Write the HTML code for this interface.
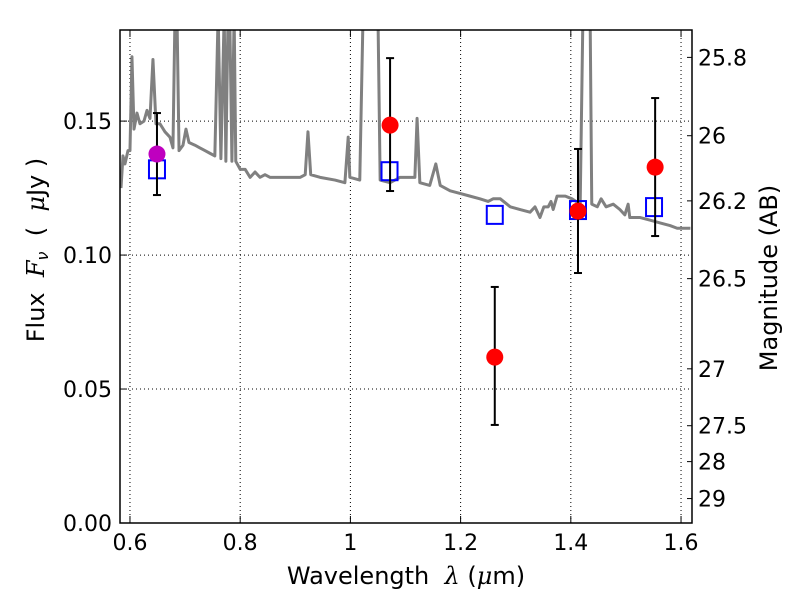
<!DOCTYPE html>
<html><head><meta charset="utf-8"><style>
body{margin:0;background:#fff}
svg text{font-family:"DejaVu Sans","Liberation Sans",sans-serif;fill:#000}
</style></head><body>
<svg id="c" width="800" height="600" xmlns="http://www.w3.org/2000/svg"></svg>
<script>
const specLam=[0.5837,0.5873,0.5909,0.5964,0.600,0.6036,0.6073,0.6127,0.6181,0.6254,0.6309,0.6363,0.6417,0.6472,0.6544,0.6635,0.6726,0.678,0.6817,0.6853,0.689,0.6962,0.7016,0.7071,0.718,0.727,0.736,0.745,0.754,0.760,0.765,0.771,0.774,0.778,0.781,0.785,0.789,0.792,0.800,0.809,0.818,0.827,0.836,0.845,0.854,0.872,0.890,0.909,0.918,0.923,0.928,0.945,0.972,0.990,0.996,0.999,1.017,1.023,1.050,1.054,1.072,1.090,1.108,1.117,1.121,1.126,1.144,1.155,1.163,1.181,1.199,1.217,1.235,1.250,1.259,1.272,1.290,1.308,1.326,1.335,1.344,1.351,1.359,1.364,1.368,1.375,1.390,1.402,1.417,1.422,1.435,1.438,1.448,1.455,1.464,1.477,1.489,1.498,1.504,1.507,1.526,1.544,1.562,1.580,1.593,1.617];
const specFlux=[0.125,0.137,0.134,0.139,0.139,0.174,0.147,0.153,0.149,0.150,0.154,0.151,0.173,0.149,0.149,0.146,0.144,0.140,0.19,0.19,0.139,0.141,0.147,0.142,0.141,0.140,0.139,0.138,0.137,0.19,0.136,0.19,0.135,0.19,0.19,0.135,0.19,0.135,0.132,0.132,0.129,0.131,0.129,0.130,0.129,0.129,0.129,0.129,0.130,0.146,0.130,0.129,0.128,0.127,0.144,0.129,0.128,0.19,0.19,0.128,0.127,0.129,0.129,0.129,0.151,0.127,0.126,0.134,0.126,0.124,0.123,0.122,0.121,0.120,0.121,0.121,0.118,0.117,0.116,0.118,0.114,0.118,0.118,0.120,0.117,0.122,0.122,0.121,0.119,0.19,0.19,0.119,0.118,0.121,0.118,0.119,0.117,0.115,0.119,0.114,0.114,0.113,0.112,0.111,0.110,0.110];
const obsLam=[0.649,1.072,1.262,1.413,1.553];
const obsFlux=[0.1377,0.1485,0.0619,0.1164,0.1328];
const obsLo=[0.1224,0.1239,0.0366,0.0933,0.1071];
const obsHi=[0.153,0.1735,0.0881,0.1396,0.1586];
const obsColor=['#bf00bf','red','red','red','red'];
const modLam=[0.649,1.071,1.262,1.413,1.551];
const modFlux=[0.132,0.1313,0.115,0.1168,0.1179];
const xTicks=[0.6,0.8,1.0,1.2,1.4,1.6];
const xTickLabels=['0.6','0.8','1','1.2','1.4','1.6'];
const yTicks=[0,0.05,0.10,0.15];
const yTickLabels=['0.00','0.05','0.10','0.15'];
const magTicks=[25.8,26,26.2,26.5,27,27.5,28,29];
const magTickLabels=['25.8','26','26.2','26.5','27','27.5','28','29'];

const L=120,R=692,T=30,B=523;
const xmin=0.5819,xmax=1.6199,ymin=0,ymax=0.184;
const X=v=>L+(v-xmin)/(xmax-xmin)*(R-L);
const Y=v=>B-(v-ymin)/(ymax-ymin)*(B-T);
const magY=m=>Y(Math.pow(10,(23.9-m)/2.5));
const svg=document.getElementById('c');
const NS='http://www.w3.org/2000/svg';
function mk(tag,attrs,parent){const e=document.createElementNS(NS,tag);for(const k in attrs)e.setAttribute(k,attrs[k]);(parent||svg).appendChild(e);return e;}

const defs=mk('defs',{});
const cp=mk('clipPath',{id:'clip'},defs);
mk('rect',{x:L,y:T,width:R-L,height:B-T},cp);

const grid=mk('g',{});


xTicks.forEach(v=>mk('line',{x1:X(v),x2:X(v),y1:T,y2:B,stroke:'#000','stroke-width':1,'stroke-dasharray':'1,3'},grid));
yTicks.forEach(v=>mk('line',{x1:L,x2:R,y1:Y(v),y2:Y(v),stroke:'#000','stroke-width':1,'stroke-dasharray':'1,3'},grid));

const sp=mk('polyline',{points:specLam.map((l,i)=>X(l)+','+Y(specFlux[i])).join(' '),fill:'none',stroke:'#808080','stroke-width':3,'stroke-linejoin':'round','clip-path':'url(#clip)'});



modLam.forEach((l,i)=>{
  const r=mk('rect',{x:X(l)-8,y:Y(modFlux[i])-9,width:16,height:18,fill:'none',stroke:'#0000ff','stroke-width':2});
  
  
});
obsLam.forEach((l,i)=>{
  const g=mk('g',{});
  
  
  const x=X(l);
  mk('line',{x1:x,x2:x,y1:Y(obsLo[i]),y2:Y(obsHi[i]),stroke:'#000','stroke-width':2},g);
  mk('line',{x1:x-4,x2:x+4,y1:Y(obsLo[i]),y2:Y(obsLo[i]),stroke:'#000','stroke-width':2},g);
  mk('line',{x1:x-4,x2:x+4,y1:Y(obsHi[i]),y2:Y(obsHi[i]),stroke:'#000','stroke-width':2},g);
  mk('circle',{cx:x,cy:Y(obsFlux[i]),r:8.5,fill:obsColor[i]},g);
});

const fr=mk('rect',{x:L,y:T,width:R-L,height:B-T,fill:'none',stroke:'#000','stroke-width':1.5});



xTicks.forEach((v,i)=>{
  const x=X(v);
  mk('line',{x1:x,x2:x,y1:B,y2:B-7,stroke:'#000'});
  mk('line',{x1:x,x2:x,y1:T,y2:T+7,stroke:'#000'});
  const t=mk('text',{x:x,y:B+27,'font-size':22,'text-anchor':'middle'});
  t.textContent=xTickLabels[i];
  
  
});
yTicks.forEach((v,i)=>{
  const y=Y(v);
  mk('line',{x1:L,x2:L+7,y1:y,y2:y,stroke:'#000'});
  const t=mk('text',{x:L-8,y:y+8,'font-size':22,'text-anchor':'end'});
  t.textContent=yTickLabels[i];
  
  
});
magTicks.forEach((m,i)=>{
  const y=magY(m);
  mk('line',{x1:R,x2:R-5,y1:y,y2:y,stroke:'#000'});
  const t=mk('text',{x:R+6,y:y+8,'font-size':22});
  t.textContent=magTickLabels[i];
  
  
});

const xt=mk('text',{x:406,y:584,'font-size':24,'text-anchor':'middle'});
xt.innerHTML='Wavelength \u00a0<tspan font-style="italic" font-family="DejaVu Serif,serif">λ</tspan> (<tspan font-style="italic" font-family="DejaVu Serif,serif">μ</tspan>m)';


const yt=mk('text',{x:0,y:0,'font-size':24,'text-anchor':'middle',transform:'translate(44,250) rotate(-90)'});
yt.innerHTML='Flux \u00a0<tspan font-style="italic" font-family="DejaVu Serif,serif">F</tspan><tspan font-style="italic" font-size="16" dy="4">ν</tspan><tspan dy="-4">\u00a0\u00a0( \u00a0</tspan><tspan font-style="italic" font-family="DejaVu Serif,serif">μ</tspan>Jy )';


const rt=mk('text',{x:0,y:0,'font-size':24,'text-anchor':'middle',transform:'translate(777,278) rotate(-90)'});
rt.textContent='Magnitude (AB)';


</script>
</body></html>
